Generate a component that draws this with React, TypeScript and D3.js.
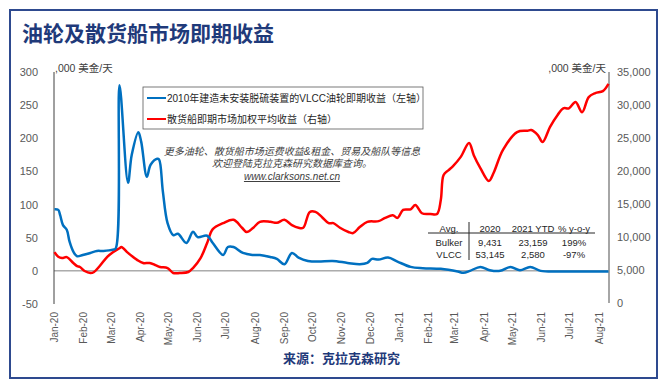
import React from "react";
import * as d3 from "d3";

const vlccDates = ["2020-01-01","2020-01-05","2020-01-07","2020-01-10","2020-01-14","2020-01-17","2020-01-21","2020-01-25","2020-01-31","2020-02-08","2020-02-15","2020-02-22","2020-03-03","2020-03-06","2020-03-10","2020-03-19","2020-03-23","2020-03-30","2020-04-02","2020-04-08","2020-04-12","2020-04-19","2020-04-21","2020-04-25","2020-04-30","2020-05-06","2020-05-11","2020-05-20","2020-05-27","2020-06-01","2020-06-11","2020-06-17","2020-06-28","2020-07-03","2020-07-09","2020-07-19","2020-07-29","2020-08-06","2020-08-17","2020-08-24","2020-09-01","2020-09-09","2020-09-16","2020-09-26","2020-10-07","2020-10-22","2020-11-07","2020-11-20","2020-11-28","2020-12-03","2020-12-10","2020-12-20","2020-12-30","2021-01-13","2021-01-26","2021-02-14","2021-03-04","2021-03-10","2021-03-17","2021-03-28","2021-04-07","2021-04-18","2021-04-29","2021-05-09","2021-05-20","2021-05-31","2021-06-21","2021-07-12","2021-08-11"];
const vlccValues = [93,92,84,69,62,44,29,22,24,27,30,30,32,34,280,133,175,209,195,142,160,169,168,120,72,54,56,42,59,51,53,42,24,36,36,27,24,24,21,18,10,27,20,15,14,15,12,10,12,18,17,20,14,6,4,3,-1,-3,0,6,1,0,6,1,6,0,-1,-1,-1];

const bulkerDates = ["2020-01-01","2020-01-05","2020-01-09","2020-01-14","2020-01-21","2020-01-25","2020-01-28","2020-02-02","2020-02-08","2020-02-12","2020-02-18","2020-02-26","2020-03-03","2020-03-10","2020-03-12","2020-03-19","2020-03-29","2020-04-04","2020-04-11","2020-04-17","2020-04-22","2020-04-30","2020-05-06","2020-05-13","2020-05-22","2020-05-27","2020-06-04","2020-06-11","2020-06-17","2020-06-28","2020-07-09","2020-07-18","2020-07-23","2020-07-30","2020-08-06","2020-08-17","2020-08-24","2020-09-01","2020-09-09","2020-09-16","2020-09-21","2020-09-28","2020-10-04","2020-10-11","2020-10-18","2020-10-23","2020-10-30","2020-11-08","2020-11-13","2020-11-20","2020-11-28","2020-12-10","2020-12-17","2020-12-25","2020-12-30","2021-01-05","2021-01-13","2021-01-18","2021-01-25","2021-02-03","2021-02-10","2021-02-14","2021-02-17","2021-02-22","2021-02-27","2021-03-07","2021-03-16","2021-03-21","2021-03-28","2021-04-06","2021-04-11","2021-04-21","2021-05-06","2021-05-17","2021-05-21","2021-05-28","2021-06-02","2021-06-10","2021-06-18","2021-06-24","2021-06-30","2021-07-07","2021-07-14","2021-07-21","2021-07-28","2021-08-05","2021-08-11"];
const bulkerValues = [7700,7000,6800,6950,6060,5600,5450,4850,4545,4700,5600,7000,7700,8300,8500,7600,6500,6060,6060,5750,5450,5300,4545,4545,4700,5300,6800,9100,11200,12100,12600,11400,10750,11400,12300,12300,12150,12600,11800,11400,11400,13800,13800,13000,12100,12100,11400,10750,10600,11500,12300,12400,12900,13300,12900,14100,14200,14850,13600,13500,13500,15600,19400,20100,20750,22100,24250,22400,20450,18500,19700,23200,25900,26100,26200,25450,24400,26700,28500,29500,29500,30450,28900,31200,31800,32100,33200];

const leftTicks = [-50, 0, 50, 100, 150, 200, 250, 300];
const rightTicks = [0, 5000, 10000, 15000, 20000, 25000, 30000, 35000];
const monthTicks = ["2020-01-01","2020-02-01","2020-03-01","2020-04-01","2020-05-01","2020-06-01","2020-07-01","2020-08-01","2020-09-01","2020-10-01","2020-11-01","2020-12-01","2021-01-01","2021-02-01","2021-03-01","2021-04-01","2021-05-01","2021-06-01","2021-07-01","2021-08-01"];

const tableHeader = ["Avg.", "2020", "2021 YTD", "% y-o-y"];
const tableRows = [
  ["Bulker", "9,431", "23,159", "199%"],
  ["VLCC", "53,145", "2,580", "-97%"],
];

const legendLabels = ["2010年建造未安装脱硫装置的VLCC油轮即期收益（左轴）", "散货船即期市场加权平均收益（右轴）"];
const noteLines = ["更多油轮、散货船市场运费收益&租金、贸易及船队等信息", "欢迎登陆克拉克森研究数据库查询。", "www.clarksons.net.cn"];

const parse = d3.utcParse("%Y-%m-%d");
const FONT = "'Liberation Sans', Arial, 'Noto Sans CJK SC', sans-serif";
const CJK = "'Noto Sans CJK SC', 'Liberation Sans', sans-serif";

export default function App() {
  const x = d3.scaleUtc().domain([parse("2020-01-01")!, parse("2021-08-11")!]).range([54.5, 608.5]);
  const yL = d3.scaleLinear().domain([-50, 300]).range([304, 72]);
  const yR = d3.scaleLinear().domain([0, 35000]).range([303, 72]);

  const vlcc = vlccDates.map((d, i) => ({ d: parse(d)!, v: vlccValues[i] }));
  const bulk = bulkerDates.map((d, i) => ({ d: parse(d)!, v: bulkerValues[i] }));

  const curve = d3.curveCatmullRom.alpha(0.5);
  const lineL = d3.line<{ d: Date; v: number }>().x(p => x(p.d)).y(p => yL(p.v)).curve(curve);
  const lineR = d3.line<{ d: Date; v: number }>().x(p => x(p.d)).y(p => yR(p.v)).curve(curve);
  const fmt = d3.format(",");
  const mfmt = d3.utcFormat("%b-%y");

  const colX = [449, 490, 533, 574];
  const rowY = [228, 242, 254];

  return (
    <svg width={670} height={380} style={{ position: "absolute", left: 0, top: 0, background: "#fff" }} fontFamily={FONT}>
      <rect x={10} y={10} width={647} height={368} fill="none" stroke="#2E4A8F" strokeWidth={2} />
      <text x={22} y={41} fontFamily={CJK} fontWeight="bold" fontSize={21} fill="#1F3A7A">油轮及散货船市场即期收益</text>

      {/* zero line */}
      <line x1={54} x2={609} y1={yL(0)} y2={yL(0)} stroke="#808080" strokeWidth={1} />
      {/* left axis */}
      <line x1={54} x2={54} y1={72} y2={304} stroke="#404040" strokeWidth={1} />
      {leftTicks.map(t => (
        <text key={"l" + t} x={38} y={yL(t) + 4} textAnchor="end" fontSize={11} fill="#595959">{t}</text>
      ))}
      <text x={55} y={72} fontSize={10.5} fill="#404040">,000 美金/天</text>
      {/* right axis */}
      <line x1={609} x2={609} y1={72} y2={303} stroke="#A6A6A6" strokeWidth={2} />
      {rightTicks.map(t => (
        <text key={"r" + t} x={617} y={yR(t) + 4} fontSize={11} fill="#595959">{fmt(t)}</text>
      ))}
      <text x={606} y={72} textAnchor="end" fontSize={10.5} fill="#404040">,000 美金/天</text>

      {/* x labels */}
      {monthTicks.map(m => {
        const px = x(parse(m)!);
        return (
          <text key={m} transform={`translate(${px + 3.5},312) rotate(-90)`} textAnchor="end" fontSize={10} fill="#595959">{mfmt(parse(m)!)}</text>
        );
      })}

      {/* lines */}
      <path d={lineR(bulk)!} fill="none" stroke="#FF0000" strokeWidth={2.5} strokeLinejoin="round" />
      <path d={lineL(vlcc)!} fill="none" stroke="#0070C0" strokeWidth={2.5} strokeLinejoin="round" />

      {/* legend */}
      <rect x={143} y={87} width={280} height={42} fill="#fff" stroke="#595959" strokeWidth={0.8} />
      <line x1={147} x2={166} y1={98} y2={98} stroke="#0070C0" strokeWidth={2} />
      <text x={167} y={102} fontSize={10} fill="#262626">{legendLabels[0]}</text>
      <line x1={147} x2={166} y1={119} y2={119} stroke="#FF0000" strokeWidth={2} />
      <text x={167} y={123} fontSize={10} fill="#262626">{legendLabels[1]}</text>

      {/* note */}
      <text x={292} y={155} textAnchor="middle" fontSize={10} fontStyle="italic" fill="#404040">{noteLines[0]}</text>
      <text x={292} y={167} textAnchor="middle" fontSize={10} fontStyle="italic" fill="#404040">{noteLines[1]}</text>
      <text x={292} y={180} textAnchor="middle" fontSize={10} fontStyle="italic" fill="#404040" textDecoration="underline">{noteLines[2]}</text>

      {/* table */}
      <rect x={426} y={219} width={172} height={44} fill="#fff" />
      {tableHeader.map((h, i) => (
        <text key={h} x={colX[i]} y={rowY[0] + 3.5} textAnchor="middle" fontSize={9.5} fill="#262626">{h}</text>
      ))}
      {tableRows.map((r, ri) => r.map((c, ci) => (
        <text key={ri + "-" + ci} x={colX[ci]} y={rowY[ri + 1] + 3.5} textAnchor="middle" fontSize={9.5} fill="#262626">{c}</text>
      )))}
      <line x1={428} x2={595} y1={233} y2={233} stroke="#262626" strokeWidth={1} />
      <line x1={469} x2={469} y1={222} y2={260} stroke="#262626" strokeWidth={1} />

      <text x={283} y={363} fontFamily={CJK} fontWeight="bold" fontSize={13} fill="#1F3A7A">来源：克拉克森研究</text>
    </svg>
  );
}
